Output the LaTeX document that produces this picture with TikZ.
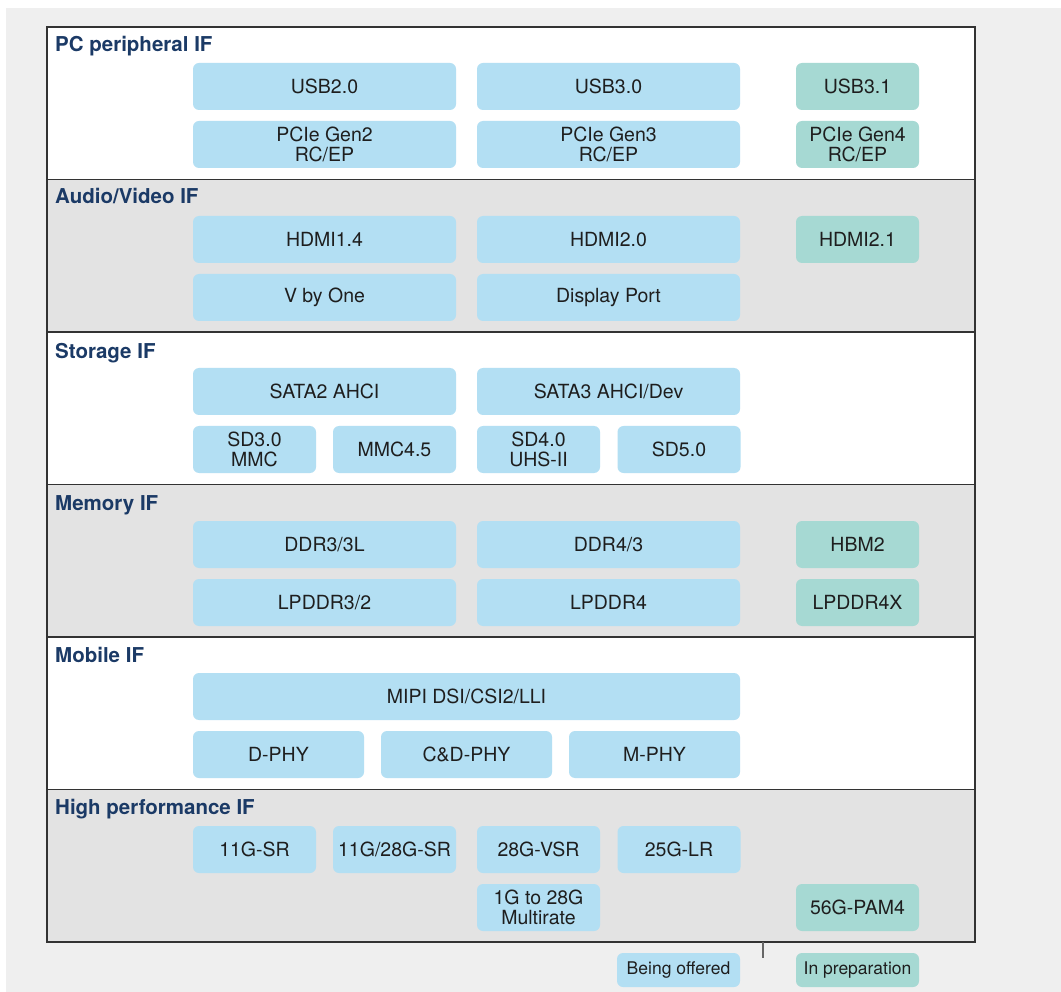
\documentclass[tikz,border=0pt]{standalone}
\usepackage{fontspec}
\setmainfont{TeX Gyre Heros}
\usetikzlibrary{positioning,calc}
\definecolor{pagegray}{HTML}{EFEFEF}
\definecolor{bandgray}{HTML}{E3E3E3}
\definecolor{offblue}{HTML}{B3DFF3}
\definecolor{prepteal}{HTML}{A6D9D3}
\definecolor{navy}{HTML}{1B3A66}
\definecolor{inkgray}{HTML}{1E1E1E}

\begin{document}
\begin{tikzpicture}[
  x=1pt,y=-1pt,
  band/.style={minimum width=928pt,minimum height=152.5pt,inner sep=0pt,
               draw=black!80,line width=1.1pt},
  hd/.style={anchor=base west,inner sep=0pt,text=navy,
             font=\fontsize{20.5}{22}\selectfont\bfseries},
  ifbox/.style={rounded corners=6pt,inner sep=0pt,align=center,text=inkgray,
                minimum height=47pt,font=\fontsize{19.5}{19.5}\selectfont},
  off/.style={ifbox,fill=offblue},
  prep/.style={ifbox,fill=prepteal},
  wide/.style={minimum width=263pt},
  narrow/.style={minimum width=123pt},
  third/.style={minimum width=171pt},
]
\useasboundingbox (0,0) rectangle (1061,992);
\fill[pagegray] (6,8) rectangle (1061,992);

% ---- interface bands ----------------------------------------------------
\node[band,fill=white]    (pcB)  at (511,103.25) {};
\node[band,fill=bandgray] (avB)  at (511,255.75) {};
\node[band,fill=white]    (stB)  at (511,408.25) {};
\node[band,fill=bandgray] (memB) at (511,560.75) {};
\node[band,fill=white]    (mobB) at (511,713.25) {};
\node[band,fill=bandgray] (hpB)  at (511,865.75) {};

\node[hd] (pcT)  at (55,52)  {PC peripheral IF};
\node[hd] (avT)  at (55,204) {Audio/Video IF};
\node[hd] (stT)  at (55,359) {Storage IF};
\node[hd] (memT) at (55,510) {Memory IF};
\node[hd] (mobT) at (55,662) {Mobile IF};
\node[hd] (hpT)  at (55,814) {High performance IF};

% ---- PC peripheral ------------------------------------------------------
\node[off,wide]    (usbA)  at (324.5,86.5)  {USB2.0};
\node[off,wide]    (usbB)  at (608.5,86.5)  {USB3.0};
\node[prep,narrow] (usbC)  at (857.5,86.5)  {USB3.1};
\node[off,wide]    (pcieA) at (324.5,144.5) {PCIe Gen2\\RC/EP};
\node[off,wide]    (pcieB) at (608.5,144.5) {PCIe Gen3\\RC/EP};
\node[prep,narrow] (pcieC) at (857.5,144.5) {PCIe Gen4\\RC/EP};

% ---- Audio/Video --------------------------------------------------------
\node[off,wide]    (hdmiA) at (324.5,239.5) {HDMI1.4};
\node[off,wide]    (hdmiB) at (608.5,239.5) {HDMI2.0};
\node[prep,narrow] (hdmiC) at (857.5,239.5) {HDMI2.1};
\node[off,wide]    (vbo)   at (324.5,297.5) {V by One};
\node[off,wide]    (dp)    at (608.5,297.5) {Display Port};

% ---- Storage ------------------------------------------------------------
\node[off,wide]   (sataA) at (324.5,391.5) {SATA2 AHCI};
\node[off,wide]   (sataB) at (608.5,391.5) {SATA3 AHCI/Dev};
\node[off,narrow] (sdA)   at (254.5,449.5) {SD3.0\\MMC};
\node[off,narrow] (mmc)   at (394.5,449.5) {MMC4.5};
\node[off,narrow] (sdB)   at (538.5,449.5) {SD4.0\\UHS-II};
\node[off,narrow] (sdC)   at (679,449.5)   {SD5.0};

% ---- Memory -------------------------------------------------------------
\node[off,wide]    (ddrA)  at (324.5,544.5) {DDR3/3L};
\node[off,wide]    (ddrB)  at (608.5,544.5) {DDR4/3};
\node[prep,narrow] (hbm)   at (857.5,544.5) {HBM2};
\node[off,wide]    (lpA)   at (324.5,602.5) {LPDDR3/2};
\node[off,wide]    (lpB)   at (608.5,602.5) {LPDDR4};
\node[prep,narrow] (lpC)   at (857.5,602.5) {LPDDR4X};

% ---- Mobile -------------------------------------------------------------
\node[off,minimum width=547pt] (mipi) at (466.5,696.5) {MIPI DSI/CSI2/LLI};
\node[off,third] (dphy)  at (278.5,754.5) {D-PHY};
\node[off,third] (cdphy) at (466.5,754.5) {C\&D-PHY};
\node[off,third] (mphy)  at (654.5,754.5) {M-PHY};

% ---- High performance ---------------------------------------------------
\node[off,narrow]  (srA)   at (254.5,849.5) {11G-SR};
\node[off,narrow]  (srB)   at (394.5,849.5) {11G/28G-SR};
\node[off,narrow]  (vsr)   at (538.5,849.5) {28G-VSR};
\node[off,narrow]  (lr)    at (679,849.5)   {25G-LR};
\node[off,narrow]  (multi) at (538.5,907.5) {1G to 28G\\Multirate};
\node[prep,narrow] (pam)   at (857.5,907.5) {56G-PAM4};

% ---- legend -------------------------------------------------------------
\coordinate (tick) at (763,942);
\node[off,narrow,minimum height=34pt,font=\fontsize{17.5}{18}\selectfont]
  (legOff) at (678.5,970) {Being offered};
\node[prep,narrow,minimum height=34pt,font=\fontsize{17.5}{18}\selectfont]
  (legPrep) at (857.5,970) {In preparation};
\draw[black!60,line width=2pt] (tick) -- ++(0,16);
\end{tikzpicture}
\end{document}
